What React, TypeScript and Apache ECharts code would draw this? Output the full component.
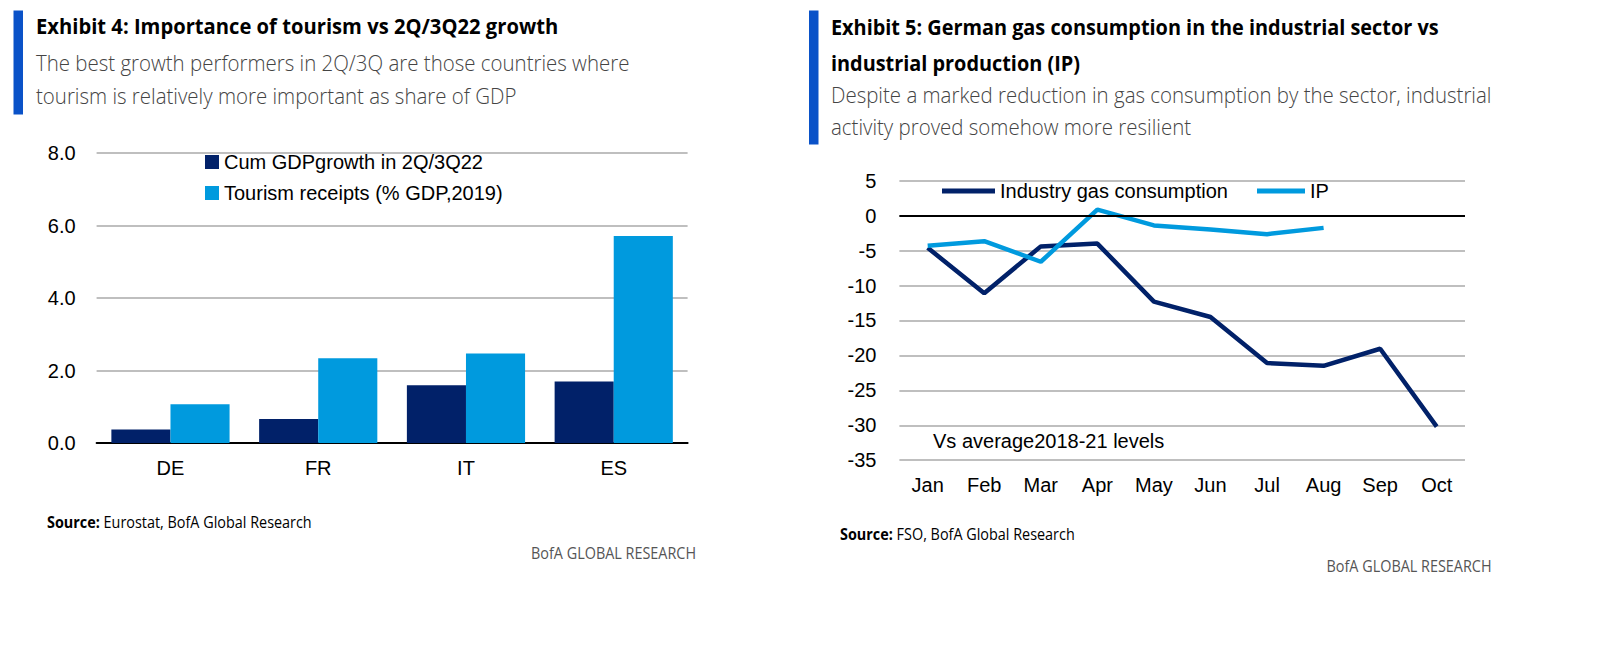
import React, { useEffect, useRef } from "react";
import * as echarts from "echarts";

const countries = ["DE", "FR", "IT", "ES"];
const gdpGrowth = [0.37, 0.66, 1.59, 1.7];
const tourismReceipts = [1.07, 2.34, 2.47, 5.71];

const months = ["Jan", "Feb", "Mar", "Apr", "May", "Jun", "Jul", "Aug", "Sep", "Oct"];
const gasConsumption = [-4.6, -11.1, -4.4, -4.0, -12.3, -14.5, -21.1, -21.5, -19.05, -30.2];
const industrialProduction = [-4.3, -3.65, -6.6, 0.85, -1.4, -2.0, -2.65, -1.75];

const NAVY = "#012169";
const LIGHT = "#009ADE";
const BRAND = "#0A52C8";
const GRID = "#BFBFBF";
const HEAD_FONT = "'Open Sans', sans-serif";
const CHART_FONT = "'Liberation Sans', Arial, sans-serif";

export default function App() {
  const ref = useRef<HTMLDivElement>(null);
  useEffect(() => {
    document.body.style.margin = "0";
    const chart = echarts.init(ref.current!, null, { renderer: "svg" });
    const axisLabel = { color: "#000", fontSize: 20, fontFamily: CHART_FONT };
    const txt = (
      x: number, y: number, text: string, font: string, fill: string, sx: number,
      align: string = "left", rich?: any
    ) => ({
      type: "text", x, y, scaleX: sx,
      style: { text, font, fill, align, verticalAlign: "middle", rich },
    });
    const title = (x: number, y: number, t: string, sx: number) =>
      txt(x, y, t, `bold 22px ${HEAD_FONT}`, "#000", sx);
    const sub = (x: number, y: number, t: string) => txt(x, y, t, `300 22px ${HEAD_FONT}`, "#444", 0.93);
    const source = (x: number, y: number, t: string) =>
      txt(x, y, `{b|Source:} ${t}`, `16px ${HEAD_FONT}`, "#000", 0.9, "left", {
        b: { fontWeight: "bold", fontSize: 16, fontFamily: HEAD_FONT, fill: "#000" },
      });
    const brand = (x: number, y: number) =>
      txt(x, y, "BofA GLOBAL RESEARCH", `16px ${HEAD_FONT}`, "#555", 0.9, "right");
    const legendText = { fontSize: 20, color: "#000", fontFamily: CHART_FONT };
    chart.setOption({
      animation: false,
      textStyle: { fontFamily: CHART_FONT },
      grid: [
        { left: 96.6, top: 153, width: 591, height: 290 },
        { left: 899.4, top: 180.7, width: 565.6, height: 279.5 },
      ],
      legend: [
        {
          orient: "vertical", left: 205, top: 152, padding: 0, itemWidth: 14, itemHeight: 14, itemGap: 11,
          icon: "rect", data: ["Cum GDPgrowth in 2Q/3Q22", "Tourism receipts (% GDP,2019)"],
          textStyle: legendText,
        },
        {
          left: 942, top: 181, padding: 0, itemWidth: 53, itemHeight: 5, icon: "rect",
          data: ["Industry gas consumption"], textStyle: legendText,
        },
        {
          left: 1257, top: 181, padding: 0, itemWidth: 48, itemHeight: 5, icon: "rect",
          data: ["IP"], textStyle: legendText,
        },
      ],
      xAxis: [
        {
          type: "category", gridIndex: 0, data: countries,
          axisLine: { lineStyle: { color: "#000", width: 2 } },
          axisTick: { show: false },
          axisLabel: { ...axisLabel, margin: 15 },
        },
        {
          type: "category", gridIndex: 1, data: months,
          axisLine: { show: false }, axisTick: { show: false },
          axisLabel: { ...axisLabel, margin: 15 },
        },
      ],
      yAxis: [
        {
          type: "value", gridIndex: 0, min: 0, max: 8, interval: 2,
          axisLabel: { ...axisLabel, margin: 21, formatter: (v: number) => v.toFixed(1) },
          splitLine: { lineStyle: { color: GRID, width: 2 } },
          axisLine: { show: false }, axisTick: { show: false },
        },
        {
          type: "value", gridIndex: 1, min: -35, max: 5, interval: 5,
          axisLabel: { ...axisLabel, margin: 23 },
          splitLine: { lineStyle: { color: GRID, width: 2 } },
          axisLine: { show: false }, axisTick: { show: false },
        },
      ],
      series: [
        {
          name: "Cum GDPgrowth in 2Q/3Q22", type: "bar", xAxisIndex: 0, yAxisIndex: 0,
          data: gdpGrowth, itemStyle: { color: NAVY }, barWidth: "40%", barGap: "0%",
        },
        {
          name: "Tourism receipts (% GDP,2019)", type: "bar", xAxisIndex: 0, yAxisIndex: 0,
          data: tourismReceipts, itemStyle: { color: LIGHT }, barWidth: "40%", barGap: "0%",
        },
        {
          name: "Industry gas consumption", type: "line", xAxisIndex: 1, yAxisIndex: 1,
          data: gasConsumption, showSymbol: false, symbol: "none",
          lineStyle: { color: NAVY, width: 4.5 }, itemStyle: { color: NAVY },
          markLine: {
            silent: true, symbol: "none", label: { show: false },
            lineStyle: { color: "#000", width: 2, type: "solid" },
            data: [{ yAxis: 0 }],
          },
        },
        {
          name: "IP", type: "line", xAxisIndex: 1, yAxisIndex: 1,
          data: industrialProduction, showSymbol: false, symbol: "none",
          lineStyle: { color: LIGHT, width: 4.5 }, itemStyle: { color: LIGHT },
        },
      ],
      graphic: [
        { type: "rect", shape: { x: 13.5, y: 10.5, width: 9.5, height: 104 }, style: { fill: BRAND } },
        title(36, 25, "Exhibit 4: Importance of tourism vs 2Q/3Q22 growth", 0.918),
        sub(36, 62.5, "The best growth performers in 2Q/3Q are those countries where"),
        sub(36, 95.5, "tourism is relatively more important as share of GDP"),
        { type: "rect", shape: { x: 809, y: 10.5, width: 9.5, height: 134 }, style: { fill: BRAND } },
        title(831, 27, "Exhibit 5: German gas consumption in the industrial sector vs", 0.903),
        title(831, 62.5, "industrial production (IP)", 0.903),
        sub(831, 94, "Despite a marked reduction in gas consumption by the sector, industrial"),
        sub(831, 126, "activity proved somehow more resilient"),
        txt(933, 441, "Vs average2018-21 levels", `20px ${CHART_FONT}`, "#000", 1),
        source(47, 521.5, "Eurostat, BofA Global Research"),
        source(840, 534, "FSO, BofA Global Research"),
        brand(696, 552.5),
        brand(1491.5, 566),
      ],
    });
    return () => chart.dispose();
  }, []);
  return <div ref={ref} style={{ width: 1620, height: 653 }} />;
}
